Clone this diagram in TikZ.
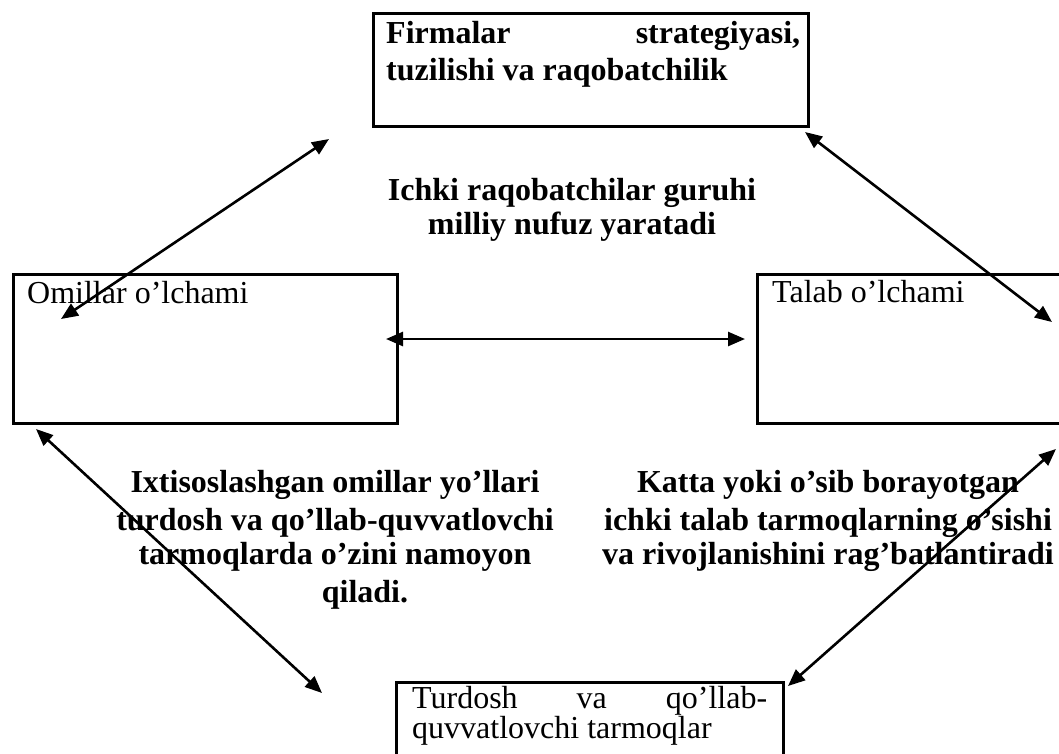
\documentclass[tikz,border=0pt]{standalone}
\usepackage{fontspec}
\setmainfont{Liberation Serif}
\usetikzlibrary{arrows.meta}

\tikzset{
  box/.style={draw, line width=2.6pt, inner sep=0pt, anchor=north west},
  txt/.style={inner sep=0pt, font=\fontsize{32}{37}\selectfont},
  btxt/.style={txt, font=\fontsize{32}{37}\selectfont\bfseries},
  biarrow/.style={line width=2.6pt, {Triangle[length=17pt,width=14pt]}-{Triangle[length=17pt,width=14pt]}}
}

\begin{document}
\begin{tikzpicture}[x=1pt, y=-1pt]
  \useasboundingbox (0,0) rectangle (1059,753);
  \clip (0,0) rectangle (1059,753);
  \fill[white] (0,0) rectangle (1059,753);

  % the four boxes
  \node[box, minimum width=435pt, minimum height=113pt] (firm) at (372,12) {};
  \node[box, minimum width=384pt, minimum height=149pt] (omil) at (12,273) {};
  \node[box, minimum width=330pt, minimum height=149pt] (talab) at (756,273) {};
  \node[box, minimum width=387pt, minimum height=100pt] (turd) at (395,681) {};

  % box captions
  \node[btxt, anchor=base west] (firm1) at (386,43) {\makebox[414pt][s]{Firmalar strategiyasi,}};
  \node[btxt, anchor=base west] (firm2) at (386,80) {tuzilishi va raqobatchilik};
  \node[txt, anchor=base west] (omilt) at (27,303) {Omillar o’lchami};
  \node[txt, anchor=base west] (talabt) at (772,302) {Talab o’lchami};
  \node[txt, anchor=base west] (turd1) at (412,708) {\makebox[355pt][s]{Turdosh va qo’llab-}};
  \node[txt, anchor=base west] (turd2) at (412,738) {quvvatlovchi tarmoqlar};

  % centre statement
  \node[btxt, anchor=base] (ichki1) at (572,200) {Ichki raqobatchilar guruhi};
  \node[btxt, anchor=base] (ichki2) at (572,234) {milliy nufuz yaratadi};

  % left statement
  \node[btxt, anchor=base] (ixt1) at (335,492) {Ixtisoslashgan omillar yo’llari};
  \node[btxt, anchor=base] (ixt2) at (335,530) {turdosh va qo’llab-quvvatlovchi};
  \node[btxt, anchor=base] (ixt3) at (335,564) {tarmoqlarda o’zini namoyon};
  \node[btxt, anchor=base] (ixt4) at (365,602) {qiladi.};

  % right statement
  \node[btxt, anchor=base] (kat1) at (828,492) {Katta yoki o’sib borayotgan};
  \node[btxt, anchor=base] (kat2) at (828,530) {ichki talab tarmoqlarning o’sishi};
  \node[btxt, anchor=base] (kat3) at (828,564) {va rivojlanishini rag’batlantiradi};

  % arrow end points
  \coordinate (tlA) at (329,139);
  \coordinate (tlB) at (61,319);
  \coordinate (trA) at (805,132);
  \coordinate (trB) at (1052,322);
  \coordinate (mA) at (386,339);
  \coordinate (mB) at (745,339);
  \coordinate (blA) at (36,429);
  \coordinate (blB) at (322,693);
  \coordinate (brA) at (1056,449);
  \coordinate (brB) at (788,686);

  % two-way links
  \draw[biarrow] (tlA) -- (tlB);
  \draw[biarrow] (trA) -- (trB);
  \draw[biarrow] (mA) -- (mB);
  \draw[biarrow] (blA) -- (blB);
  \draw[biarrow] (brA) -- (brB);
\end{tikzpicture}
\end{document}
